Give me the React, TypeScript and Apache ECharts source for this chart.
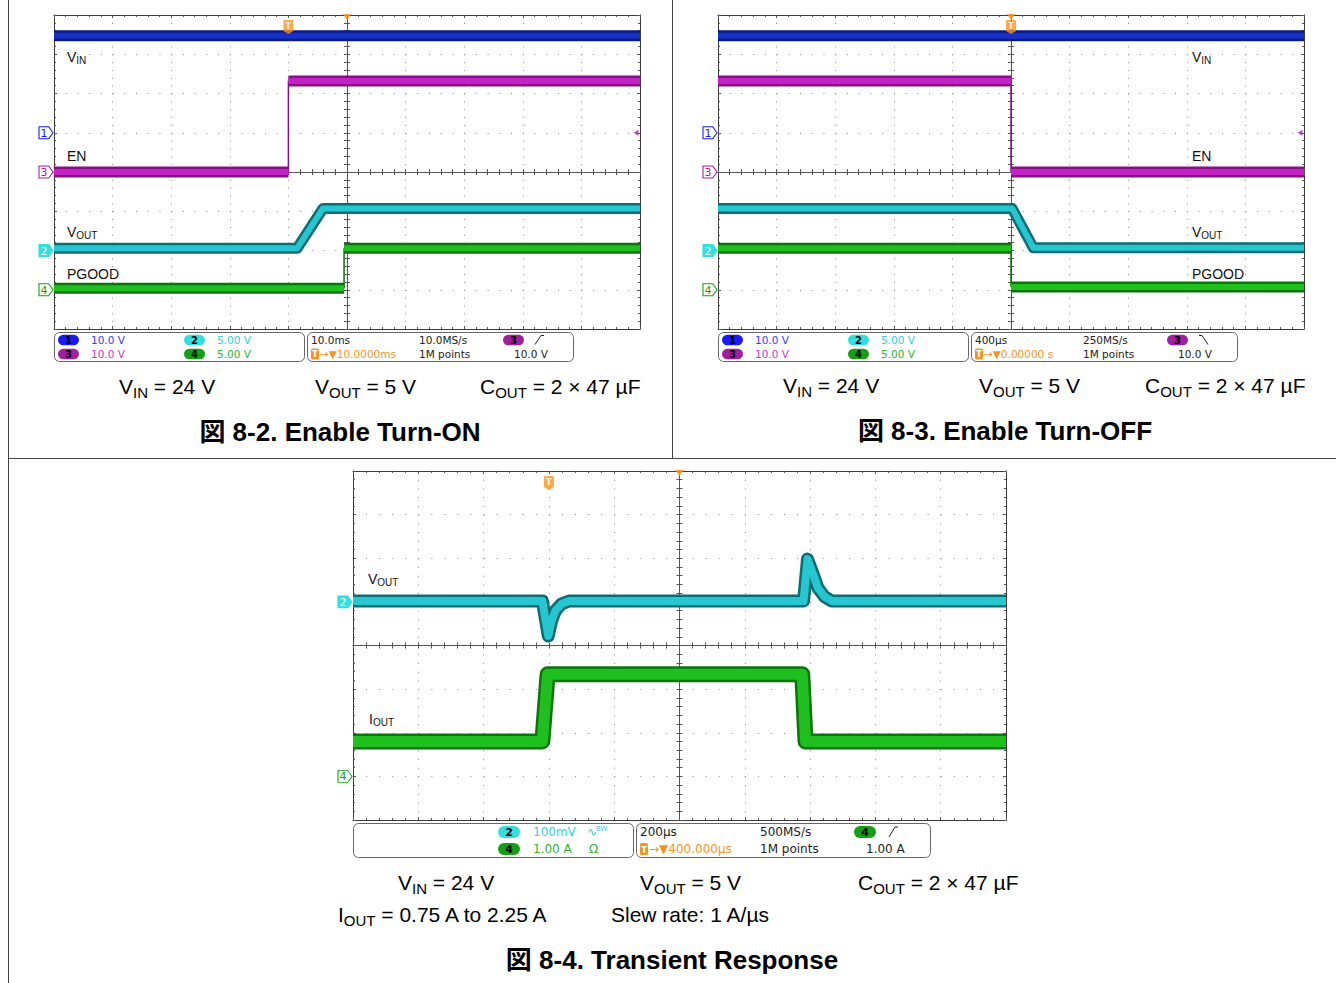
import React, { useEffect, useRef } from "react";
import * as echarts from "echarts";

type Pt = [number, number];

// ---------------- data (oscilloscope divisions: x -5..5, y -4..4) ----------------
// 図 8-2 Enable Turn-ON
const onVin: Pt[] = [[-5, 3.47], [5, 3.47]];
const onEn: Pt[] = [[-5, 0.0], [-1, 0.0], [-1, 2.32], [5, 2.32]];
const onVout: Pt[] = [[-5, -1.94], [-0.85, -1.94], [-0.41, -0.93], [5, -0.93]];
const onPgood: Pt[] = [[-5, -2.96], [-0.05, -2.96], [-0.05, -1.94], [5, -1.94]];
const onLevels = [1, -2, 0, -3]; // ch1..ch4 ground markers
const onTrigX = -1;
const onTrigLevel = 1;

// 図 8-3 Enable Turn-OFF
const offVin: Pt[] = [[-5, 3.47], [5, 3.47]];
const offEn: Pt[] = [[-5, 2.32], [0, 2.32], [0, 0.0], [5, 0.0]];
const offVout: Pt[] = [[-5, -0.93], [0.02, -0.93], [0.38, -1.93], [5, -1.93]];
const offPgood: Pt[] = [[-5, -1.94], [0, -1.94], [0, -2.93], [5, -2.93]];
const offLevels = [1, -2, 0, -3];
const offTrigX = 0;
const offTrigLevel = 1;

// 図 8-4 Transient Response
const trVout: Pt[] = [
  [-5, 1.02], [-2.1, 1.02], [-2.01, 0.22], [-1.96, 0.56], [-1.9, 0.8], [-1.81, 0.95],
  [-1.69, 1.02], [1.9, 1.02], [1.96, 1.98], [2.04, 1.66], [2.12, 1.32], [2.22, 1.12],
  [2.33, 1.02], [5, 1.02],
];
const trIout: Pt[] = [[-5, -2.2], [-2.1, -2.2], [-2.02, -0.66], [1.88, -0.66], [1.93, -2.2], [5, -2.2]];
const trLevels = [NaN, 1.0, NaN, -3];
const trTrigX = -2;

// info box texts
const onInfo = {
  ch: ["10.0 V", "5.00 V", "10.0 V", "5.00 V"],
  time: "10.0ms", rate: "10.0MS/s", trigCh: "3", delay: "→▼10.0000ms", points: "1M points", level: "10.0 V", slope: "rise",
};
const offInfo = {
  ch: ["10.0 V", "5.00 V", "10.0 V", "5.00 V"],
  time: "400µs", rate: "250MS/s", trigCh: "3", delay: "→▼0.00000 s", points: "1M points", level: "10.0 V", slope: "fall",
};
const trInfo = {
  ch2: "100mV", ch4: "1.00 A", time: "200µs", rate: "500MS/s", trigCh: "4", delay: "→▼400.000µs", points: "1M points", level: "1.00 A",
};

// "_{...}" marks a subscript
const capOn = ["V_{IN} = 24 V", "V_{OUT} = 5 V", "C_{OUT} = 2 × 47 µF"];
const titleOn = "図 8-2. Enable Turn-ON";
const capOff = ["V_{IN} = 24 V", "V_{OUT} = 5 V", "C_{OUT} = 2 × 47 µF"];
const titleOff = "図 8-3. Enable Turn-OFF";
const capTr = ["V_{IN} = 24 V", "V_{OUT} = 5 V", "C_{OUT} = 2 × 47 µF", "I_{OUT} = 0.75 A to 2.25 A", "Slew rate: 1 A/µs"];
const titleTr = "図 8-4. Transient Response";
const onLabels = ["V_{IN}", "EN", "V_{OUT}", "PGOOD"];
const offLabels = ["V_{IN}", "EN", "V_{OUT}", "PGOOD"];
const trLabels = ["V_{OUT}", "I_{OUT}"];

// ---------------- styles / layout ----------------
const SCOPE_FONT = "DejaVu Sans";
const CAP_FONT = "'Liberation Sans', Arial, 'Noto Sans CJK JP', sans-serif";
const ORANGE = "#f7941d";
const CH_COLORS = ["#1a1aff", "#33dede", "#a11ea1", "#14a014"];
const CH_TEXT = ["#3b3bff", "#2fd0d6", "#c23cc2", "#33b033"];
const TRACE = {
  vin: ["#0b1a85", "#1631c4"],
  en: ["#861186", "#c422c4"],
  vout: ["#0c6b73", "#25c6cf"],
  pg: ["#0a760a", "#1fbf1f"],
};

const GRIDS = [
  { left: 54, top: 15, width: 586, height: 314 },
  { left: 718, top: 15, width: 586, height: 314 },
  { left: 353, top: 471, width: 653, height: 349 },
];

function axesFor(g: number) {
  const r = GRIDS[g];
  const dotV = r.height / 40;
  const dotH = r.width / 50;
  const frame = { color: "#3a3a3a", width: 1 };
  const tickStyle = { color: "#555", width: 1 };
  const mk = (isX: boolean, pos: string, onZero: boolean, inside: boolean, split: boolean, center: boolean) => ({
    gridIndex: g,
    type: "value",
    min: isX ? -5 : -4,
    max: isX ? 5 : 4,
    interval: 1,
    position: pos,
    axisLabel: { show: false },
    axisLine: { show: true, onZero, lineStyle: center ? { color: "#555", width: 1 } : frame },
    axisTick: { show: true, inside, length: 3, lineStyle: tickStyle },
    minorTick: { show: true, splitNumber: 5, length: center ? 3 : 2, lineStyle: tickStyle },
    splitLine: split
      ? { show: true, lineStyle: { color: "#8a8a8a", width: 1, type: [1, (isX ? dotV : dotH) - 1] } }
      : { show: false },
  });
  const xs = [
    mk(true, "bottom", false, true, true, false),
    mk(true, "top", false, true, false, false),
    mk(true, "bottom", true, false, false, true),
    mk(true, "top", true, false, false, true),
  ];
  const ys = [
    mk(false, "left", false, true, true, false),
    mk(false, "right", false, true, false, false),
    mk(false, "left", true, false, false, true),
    mk(false, "right", true, false, false, true),
  ];
  return { xs, ys };
}

function splitSegments(pts: Pt[]) {
  const segs: Pt[][] = [];
  const edges: Pt[][] = [];
  let cur: Pt[] = [pts[0]];
  for (let i = 1; i < pts.length; i++) {
    const p = pts[i];
    const q = pts[i - 1];
    if (p[0] === q[0]) {
      segs.push(cur);
      edges.push([q, p]);
      cur = [p];
    } else cur.push(p);
  }
  segs.push(cur);
  return { segs, edges };
}

function traceSeries(g: number, pts: Pt[], colors: string[], w: number) {
  const { segs, edges } = splitSegments(pts);
  const base = {
    type: "line", xAxisIndex: 4 * g, yAxisIndex: 4 * g, showSymbol: false, symbol: "none",
    silent: true, animation: false, z: 3,
  };
  const out: any[] = [];
  edges.forEach((e) => out.push({ ...base, data: e, lineStyle: { color: colors[0], width: 1.5 } }));
  segs.forEach((s) => out.push({ ...base, data: s, lineStyle: { color: colors[0], width: w, cap: "butt", join: "round" } }));
  segs.forEach((s) => out.push({ ...base, data: s, lineStyle: { color: colors[1], width: w - 5, cap: "butt", join: "round" } }));
  return out;
}

const MARKER_PATH = "path://M0,0L9,0L13,6L9,12L0,12Z";
function markerSeries(g: number, levels: number[]) {
  const out: any[] = [];
  levels.forEach((lv, i) => {
    if (Number.isNaN(lv)) return;
    const filled = i === 1;
    const color = CH_COLORS[i];
    out.push({
      type: "scatter", xAxisIndex: 4 * g, yAxisIndex: 4 * g, clip: false, silent: true, z: 6,
      data: [[-5, lv]],
      symbol: MARKER_PATH, symbolSize: [14, 12], symbolOffset: [-8, 0],
      itemStyle: { color: filled ? color : "#ffffff", borderColor: color, borderWidth: 1, opacity: 1 },
      label: {
        show: true, formatter: String(i + 1), position: "inside", offset: [-2, 0.5],
        color: filled ? "#ffffff" : color, fontSize: 11, fontFamily: SCOPE_FONT,
      },
    });
  });
  return out;
}

function trigSeries(g: number, trigX: number, trigLevel: number | null) {
  const base = { type: "scatter", xAxisIndex: 4 * g, yAxisIndex: 4 * g, clip: false, silent: true, z: 7 };
  const out: any[] = [
    {
      ...base, data: [[trigX, 4]],
      symbol: "path://M1,0H9Q10,0 10,1V11L5,14L0,11V1Q0,0 1,0Z", symbolSize: [10, 14], symbolOffset: [0, 12],
      itemStyle: { color: ORANGE },
      label: { show: true, formatter: "T", position: "inside", offset: [0, -1], color: "#fff", fontSize: 9, fontWeight: "bold", fontFamily: SCOPE_FONT },
    },
    {
      ...base, data: [[0, 4]], symbol: "triangle", symbolRotate: 180, symbolSize: [9, 6], symbolOffset: [0, 2],
      itemStyle: { color: ORANGE },
    },
  ];
  if (trigLevel !== null) {
    out.push({
      ...base, data: [[5, trigLevel]], symbol: "triangle", symbolRotate: 90, symbolSize: [6, 5], symbolOffset: [-4, 0],
      itemStyle: { color: "#b020b0" },
    });
  }
  return out;
}

// ---------------- graphic helpers ----------------
let measureCtx: CanvasRenderingContext2D | null = null;
function measure(text: string, size: number, family: string, weight = "normal") {
  if (!measureCtx) measureCtx = document.createElement("canvas").getContext("2d");
  measureCtx!.font = `${weight} ${size}px ${family}`;
  return measureCtx!.measureText(text).width;
}

function txt(x: number, y: number, text: string, fill: string, size: number, extra: any = {}) {
  return {
    type: "text", silent: true, z: 10,
    style: { legacy: false, text, x, y, fill, fontSize: size, fontFamily: SCOPE_FONT, align: "left", verticalAlign: "middle", ...extra },
  };
}

// text with "_{..}" subscripts, left aligned at x, main glyphs centred on y
function subText(x: number, y: number, s: string, size: number, subSize: number, drop: number, fill: string) {
  const els: any[] = [];
  const re = /_\{([^}]*)\}/g;
  let last = 0;
  let cx = x;
  const parts: [string, boolean][] = [];
  let m: RegExpExecArray | null;
  while ((m = re.exec(s))) {
    if (m.index > last) parts.push([s.slice(last, m.index), false]);
    parts.push([m[1], true]);
    last = m.index + m[0].length;
  }
  if (last < s.length) parts.push([s.slice(last), false]);
  const shift = 0.35 * (size - subSize) + drop;
  parts.forEach(([t, sub]) => {
    const fs = sub ? subSize : size;
    els.push({
      type: "text", silent: true, z: 10,
      style: { legacy: false, text: t, x: cx, y: sub ? y + shift : y, fill, fontSize: fs, fontFamily: CAP_FONT, align: "left", verticalAlign: "middle" },
    });
    cx += measure(t, fs, CAP_FONT);
  });
  return els;
}

function boxEl(x: number, y: number, w: number, h: number) {
  return { type: "rect", silent: true, z: 9, shape: { x: x + 0.5, y: y + 0.5, width: w, height: h, r: 5 }, style: { fill: "none", stroke: "#666", lineWidth: 1 } };
}
function pillEl(x: number, y: number, w: number, h: number, ch: number, fs: number) {
  return [
    { type: "rect", silent: true, z: 10, shape: { x, y, width: w, height: h, r: h / 2 }, style: { fill: CH_COLORS[ch] } },
    txt(x + w / 2, y + h / 2 + 0.5, String(ch + 1), "#000", fs, { align: "center", fontWeight: "bold" }),
  ];
}
function tIcon(x: number, y: number, h: number) {
  return [
    { type: "rect", silent: true, z: 10, shape: { x, y: y - h / 2, width: 8, height: h, r: 1.5 }, style: { fill: ORANGE } },
    txt(x + 4, y + 0.5, "T", "#fff", h - 3, { align: "center", fontWeight: "bold" }),
  ];
}
function slopeEl(x: number, y: number, kind: string, h: number) {
  const pts = kind === "rise"
    ? [[x, y + h / 2], [x + 6, y - h / 2], [x + 9, y - h / 2]]
    : [[x, y - h / 2], [x + 3, y - h / 2], [x + 9, y + h / 2]];
  return { type: "polyline", silent: true, z: 10, shape: { points: pts }, style: { stroke: "#222", fill: "none", lineWidth: 1 } };
}

function topInfo(ox: number, info: any) {
  const els: any[] = [];
  const r1 = 340, r2 = 354, fs = 10.5;
  els.push(boxEl(54 + ox, 332, 250, 29));
  els.push(boxEl(307 + ox, 332, 266, 29));
  const pos = [[58, r1], [184, r1], [58, r2], [184, r2]];
  info.ch.forEach((t: string, i: number) => {
    const [px, py] = pos[i];
    els.push(...pillEl(px + ox, py - 5.25, 21, 10.5, i, 10));
    els.push(txt(px + ox + 33, py, t, CH_TEXT[i], fs));
  });
  els.push(txt(311 + ox, r1, info.time, "#222", fs));
  els.push(txt(419 + ox, r1, info.rate, "#222", fs));
  els.push(...pillEl(503 + ox, r1 - 5.25, 21, 10.5, Number(info.trigCh) - 1, 10));
  els.push(slopeEl(535 + ox, r1, info.slope, 9));
  els.push(...tIcon(311 + ox, r2, 11));
  els.push(txt(320 + ox, r2, info.delay, ORANGE, fs));
  els.push(txt(419 + ox, r2, info.points, "#222", fs));
  els.push(txt(514 + ox, r2, info.level, "#222", fs));
  return els;
}

function bottomInfo(info: any) {
  const els: any[] = [];
  const r1 = 832, r2 = 849, fs = 12;
  els.push(boxEl(353, 823, 280, 34));
  els.push(boxEl(636, 823, 294, 34));
  els.push(...pillEl(498, r1 - 6, 22, 12, 1, 11));
  els.push(txt(533, r1, info.ch2, CH_TEXT[1], fs));
  els.push(txt(587, r1, "∿", CH_TEXT[1], 12));
  els.push(txt(596, r1 - 3, "BW", CH_TEXT[1], 7));
  els.push(...pillEl(498, r2 - 6, 22, 12, 3, 11));
  els.push(txt(533, r2, info.ch4, CH_TEXT[3], fs));
  els.push(txt(589, r2, "Ω", CH_TEXT[3], fs));
  els.push(txt(640, r1, info.time, "#222", fs));
  els.push(txt(760, r1, info.rate, "#222", fs));
  els.push(...pillEl(854, r1 - 6, 22, 12, Number(info.trigCh) - 1, 11));
  els.push(slopeEl(889, r1, "rise", 10));
  els.push(...tIcon(640, r2, 12));
  els.push(txt(649, r2, info.delay, ORANGE, fs));
  els.push(txt(760, r2, info.points, "#222", fs));
  els.push(txt(866, r2, info.level, "#222", fs));
  return els;
}

function scopeLabel(x: number, y: number, s: string) {
  return subText(x, y, s, 14, 10, 2, "#111");
}
function caption(x: number, y: number, s: string) {
  return subText(x, y, s, 21, 15, 4.4, "#000");
}
function title(x: number, y: number, text: string) {
  return {
    type: "text", silent: true, z: 10,
    style: { legacy: false, text, x, y, align: "center", verticalAlign: "middle", fill: "#000", fontSize: 26, fontWeight: "bold", fontFamily: CAP_FONT },
  };
}
function line(x1: number, y1: number, x2: number, y2: number) {
  return { type: "line", silent: true, z: 1, shape: { x1, y1, x2, y2 }, style: { stroke: "#444", lineWidth: 1 } };
}

function buildOption() {
  const xAxis: any[] = [];
  const yAxis: any[] = [];
  for (let g = 0; g < 3; g++) {
    const { xs, ys } = axesFor(g);
    xAxis.push(...xs);
    yAxis.push(...ys);
  }
  const series: any[] = [
    ...traceSeries(0, onVin, TRACE.vin, 11),
    ...traceSeries(0, onEn, TRACE.en, 11),
    ...traceSeries(0, onVout, TRACE.vout, 11),
    ...traceSeries(0, onPgood, TRACE.pg, 11),
    ...markerSeries(0, onLevels),
    ...trigSeries(0, onTrigX, onTrigLevel),

    ...traceSeries(1, offVin, TRACE.vin, 11),
    ...traceSeries(1, offEn, TRACE.en, 11),
    ...traceSeries(1, offVout, TRACE.vout, 11),
    ...traceSeries(1, offPgood, TRACE.pg, 11),
    ...markerSeries(1, offLevels),
    ...trigSeries(1, offTrigX, offTrigLevel),

    ...traceSeries(2, trVout, TRACE.vout, 13),
    ...traceSeries(2, trIout, TRACE.pg, 16),
    ...markerSeries(2, trLevels),
    ...trigSeries(2, trTrigX, null),
  ];

  const labelY1 = [57, 156, 232, 273.5];
  const graphic: any[] = [
    line(8.5, 0, 8.5, 983),
    line(672.5, 0, 672.5, 458.5),
    line(8, 458.5, 1336, 458.5),
    ...onLabels.flatMap((s, i) => scopeLabel(67, labelY1[i], s)),
    ...offLabels.flatMap((s, i) => scopeLabel(1192, labelY1[i], s)),
    ...scopeLabel(368, 579, trLabels[0]),
    ...scopeLabel(369, 719, trLabels[1]),
    ...topInfo(0, onInfo),
    ...topInfo(664, offInfo),
    ...bottomInfo(trInfo),
    ...caption(119, 386, capOn[0]),
    ...caption(315, 386, capOn[1]),
    ...caption(480, 386, capOn[2]),
    title(340, 432, titleOn),
    ...caption(783, 385, capOff[0]),
    ...caption(979, 385, capOff[1]),
    ...caption(1145, 385, capOff[2]),
    title(1005, 431, titleOff),
    ...caption(398, 882, capTr[0]),
    ...caption(640, 882, capTr[1]),
    ...caption(858, 882, capTr[2]),
    ...caption(338, 914, capTr[3]),
    ...caption(611, 914, capTr[4]),
    title(672, 960, titleTr),
  ];

  return {
    animation: false,
    backgroundColor: "#ffffff",
    grid: GRIDS.map((r) => ({ ...r, show: false, containLabel: false, outerBoundsMode: "none" })),
    xAxis,
    yAxis,
    series,
    graphic: { elements: graphic },
  };
}

export default function App() {
  const ref = useRef<HTMLDivElement>(null);
  useEffect(() => {
    if (!ref.current) return;
    const chart = echarts.init(ref.current, null, { renderer: "svg" });
    chart.setOption(buildOption() as any);
    return () => chart.dispose();
  }, []);
  return (
    <div
      ref={ref}
      style={{ position: "absolute", left: 0, top: 0, width: 1336, height: 983, background: "#fff" }}
    />
  );
}
